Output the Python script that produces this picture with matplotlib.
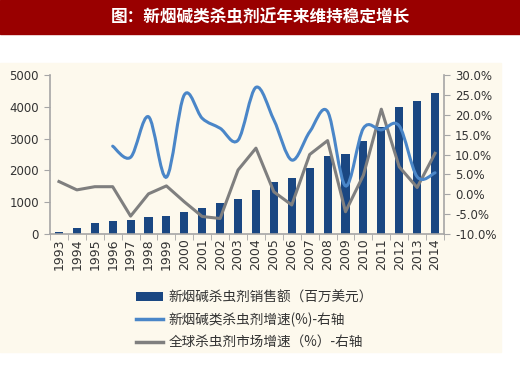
import matplotlib
matplotlib.use("Agg")
import matplotlib.pyplot as plt
import numpy as np
from matplotlib.path import Path
from matplotlib.patches import PathPatch, Patch, Rectangle
from matplotlib.lines import Line2D

plt.rcParams["font.family"] = ["Noto Sans CJK SC", "DejaVu Sans"]

years = [str(y) for y in range(1993, 2015)]
sales = [70, 190, 360, 400, 440, 535, 565, 680, 820, 965, 1090, 1385,
         1645, 1770, 2065, 2450, 2525, 2925, 3375, 3985, 4180, 4425]
neonic_growth = [None, None, None, 12.1, 9.3, 19.5, 4.3, 25.0, 19.1, 16.6, 13.6, 26.9,
                 18.7, 8.6, 15.7, 20.8, 2.1, 16.6, 16.2, 17.2, 4.4, 5.4]
global_growth = [3.2, 1.1, 1.9, 1.9, -5.5, 0.1, 2.1, -1.9, -5.6, -6.1, 6.1, 11.6,
                 0.6, -2.7, 10.0, 13.5, -4.4, 4.8, 21.4, 6.9, 1.7, 10.3]

title = "图：新烟碱类杀虫剂近年来维持稳定增长"
legend_labels = ["新烟碱杀虫剂销售额（百万美元）",
                 "新烟碱类杀虫剂增速(%)-右轴",
                 "全球杀虫剂市场增速（%）-右轴"]

bar_color = "#1a4782"
blue_color = "#4a86c8"
gray_color = "#7f7f7f"
axis_color = "#a6a6a6"


def smooth_path(xs, ys):
    # Catmull-Rom through the points, as cubic bezier segments
    pts = np.column_stack([xs, ys]).astype(float)
    verts = [pts[0]]
    codes = [Path.MOVETO]
    n = len(pts)
    for i in range(n - 1):
        p0 = pts[max(i - 1, 0)]
        p1 = pts[i]
        p2 = pts[i + 1]
        p3 = pts[min(i + 2, n - 1)]
        c1 = p1 + (p2 - p0) / 6.0
        c2 = p2 - (p3 - p1) / 6.0
        verts += [c1, c2, p2]
        codes += [Path.CURVE4] * 3
    return Path(verts, codes)


fig = plt.figure(figsize=(5.2, 3.68), dpi=100)
fig.patches.append(Rectangle((0, 1 - 34 / 368), 1, 34 / 368, transform=fig.transFigure,
                             color="#990000", zorder=-10))
fig.patches.append(Rectangle((0, 1 - 352 / 368), 501 / 520, (352 - 63) / 368,
                             transform=fig.transFigure, color="#fdf9ed", zorder=-10))
fig.text(0.5, 1 - 17 / 368, title, color="white", fontsize=12, fontweight="bold",
         ha="center", va="center")

ax = fig.add_axes([50 / 520, 1 - 234 / 368, 394 / 520, 159 / 368])
ax.patch.set_alpha(0)
x = np.arange(len(years))
ax.bar(x, sales, width=0.45, color=bar_color, zorder=2)
ax.set_ylim(0, 5000)
ax.set_yticks(range(0, 5001, 1000))
ax.set_xlim(-0.5, len(years) - 0.5)
ax.set_xticks(x)
ax.set_xticklabels(years, rotation=90, fontsize=9, color="#333333", family="DejaVu Sans")
ax.set_xticks(np.arange(-0.5, len(years), 1), minor=True)
ax.tick_params(axis="x", which="major", length=0, pad=3)
ax.tick_params(axis="x", which="minor", length=4, color=axis_color, direction="out")
ax.tick_params(axis="y", labelsize=8.5, colors="#333333", length=4, color=axis_color, pad=4)
for lbl in ax.get_yticklabels():
    lbl.set_family("DejaVu Sans")
for s in ["top", "right"]:
    ax.spines[s].set_visible(False)
for s in ["left", "bottom"]:
    ax.spines[s].set_color(axis_color)
    ax.spines[s].set_linewidth(1.2)

ax2 = ax.twinx()
ax2.set_ylim(-10, 30)
ax2.set_yticks(range(-10, 31, 5))
ax2.set_yticklabels([f"{v:.1f}%" for v in range(-10, 31, 5)], family="DejaVu Sans")
ax2.tick_params(axis="y", labelsize=8.5, colors="#333333", length=4, color=axis_color, pad=4)
for s in ["top", "left", "bottom"]:
    ax2.spines[s].set_visible(False)
ax2.spines["right"].set_color(axis_color)
ax2.spines["right"].set_linewidth(1.2)

ax2.plot(x, global_growth, color=gray_color, lw=2.2, zorder=3)
bx = [i for i, v in enumerate(neonic_growth) if v is not None]
by = [v for v in neonic_growth if v is not None]
ax2.add_patch(PathPatch(smooth_path(bx, by), facecolor="none", edgecolor=blue_color,
                        lw=2.2, zorder=4, capstyle="round"))

handles = [Patch(facecolor=bar_color, edgecolor="none"),
           Line2D([], [], color=blue_color, lw=2.5),
           Line2D([], [], color=gray_color, lw=2.5)]
fig.legend(handles, legend_labels, loc="upper left", bbox_to_anchor=(124 / 520, 1 - 278 / 368),
           frameon=False, fontsize=9.8, handlelength=2.0, handleheight=0.6,
           labelspacing=0.6, handletextpad=0.4, labelcolor="#333333")

fig.savefig("out.png", dpi=100)
